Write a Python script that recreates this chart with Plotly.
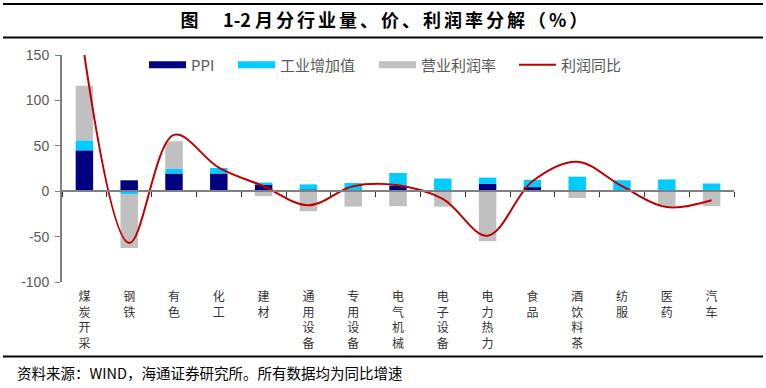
import plotly.graph_objects as go

categories = ["煤炭开采", "钢铁", "有色", "化工", "建材", "通用设备", "专用设备", "电气机械",
              "电子设备", "电力热力", "食品", "酒饮料茶", "纺服", "医药", "汽车"]
ppi = [45, 12, 19.5, 19.5, 7.5, 2, 1, 6, 1, 8, 4.5, 0, 1, 0, 1]
value_added = [11, -3, 5, 6, 2, 5.5, 8, 14, 13, 7, 8, 16, 11, 13, 7.5]
profit_margin = [60, -59.5, 30.5, 0, -5.5, -22, -17, -16.5, -17, -55, 0, -7.5, 0, -16.5, -16.5]
profit_yoy = [150, -57, 62, 26, 5.5, -15.5, 5.5, 6.5, -8.5, -49, 11, 32.5, 5.5, -17.5, -10]
y_tickvals = [-100, -50, 0, 50, 100, 150]
y_ticktext = ["-100", "-50", "0", "50", "100", "150"]

series_names = ["PPI", "工业增加值", "营业利润率", "利润同比"]
bar_colors = ["#000080", "#00CCFF", "#C0C0C0"]
line_color = "#C00000"
axis_gray = "#808080"
text_gray = "#595959"

vertical_labels = ["<br>".join(list(c)) for c in categories]

fig = go.Figure()
for name, vals, col in zip(series_names[:3], [ppi, value_added, profit_margin], bar_colors):
    fig.add_trace(go.Bar(x=categories, y=vals, name=name, marker=dict(color=col, line=dict(width=0)),
                         showlegend=False, width=0.39))
fig.add_trace(go.Scatter(x=categories, y=profit_yoy, mode="lines", name=series_names[3],
                         line=dict(color=line_color, width=2, shape="spline", smoothing=1.0),
                         showlegend=False))
# axis at zero with boundary ticks
fig.add_trace(go.Scatter(x=categories, y=[None] * len(categories), xaxis="x2", yaxis="y",
                         showlegend=False, hoverinfo="skip"))

# legend entries
legend_ids = ["legend", "legend2", "legend3", "legend4"]
legend_cols = bar_colors + [line_color]
legend_widths = [7, 7, 7, 2]
for name, col, w, lid in zip(series_names, legend_cols, legend_widths, legend_ids):
    fig.add_trace(go.Scatter(x=[None], y=[None], mode="lines", name=name,
                             line=dict(color=col, width=w), legend=lid, showlegend=True))

pl, pr, pt, pb = 62, 734, 55, 282
W, H = 766, 388
def px_x(px):
    return (px - pl) / (pr - pl)
def px_y(py):
    return (pb - py) / (pb - pt)

leg_font = dict(family="Noto Sans CJK SC, sans-serif", size=15, color=text_gray)
leg_x_px = [149, 238, 379, 519]
for lid, lx in zip(legend_ids, leg_x_px):
    fig.update_layout({lid: dict(x=px_x(lx - 5), y=px_y(65), xanchor="left", yanchor="middle",
                                 orientation="h", bgcolor="rgba(0,0,0,0)", borderwidth=0,
                                 font=leg_font, itemwidth=37, tracegroupgap=0)})

sp = "\u2006"
title_main = sp.join(list("月分行业量、价、利润率分解（%）"))
title_text = "<b>图\u00a0\u00a0\u00a0\u00a0\u00a0\u00a01-2" + "\u00a0" + title_main + "</b>"

fig.update_layout(
    width=W, height=H,
    margin=dict(l=pl, r=W - pr, t=pt, b=H - pb),
    paper_bgcolor="white", plot_bgcolor="white",
    barmode="relative",
    title=dict(text=title_text, x=(179 + 589) / 2 / W, xref="container",
               y=1 - 21 / H, yref="container", xanchor="center", yanchor="middle",
               font=dict(family="Noto Sans CJK SC, sans-serif", size=18, color="black")),
    xaxis=dict(type="category", categoryarray=categories, range=[-0.5, 14.5], showline=False,
               ticks="", tickvals=categories, ticktext=vertical_labels, showgrid=False, zeroline=False,
               ticklabelstandoff=6,
               tickfont=dict(family="Noto Sans CJK SC, sans-serif", size=12, color="#333333")),
    xaxis2=dict(type="category", categoryarray=categories, range=[-0.5, 14.5], overlaying="x",
                anchor="free", position=100 / 250, showline=True, linecolor=axis_gray, linewidth=2,
                ticks="outside", ticklen=5, tickwidth=1, tickcolor="#333333", tickson="boundaries",
                showticklabels=False, showgrid=False, zeroline=False),
    yaxis=dict(range=[-100, 150], tickvals=y_tickvals, ticktext=y_ticktext, showline=True,
               linecolor=axis_gray, linewidth=2, ticks="outside", ticklen=5, tickcolor=axis_gray,
               showgrid=False, zeroline=False, ticklabelstandoff=3,
               tickfont=dict(family="Liberation Sans, Arial, sans-serif", size=14, color=text_gray)),
    shapes=[
        dict(type="line", xref="paper", yref="paper", x0=px_x(3), x1=px_x(763), y0=px_y(4), y1=px_y(4),
             line=dict(color="black", width=2)),
        dict(type="line", xref="paper", yref="paper", x0=px_x(3), x1=px_x(763), y0=px_y(37.5), y1=px_y(37.5),
             line=dict(color="black", width=2)),
        dict(type="line", xref="paper", yref="paper", x0=px_x(3), x1=px_x(763), y0=px_y(356.5), y1=px_y(356.5),
             line=dict(color="black", width=2)),
    ],
    annotations=[
        dict(text="资料来源：WIND，海通证券研究所。所有数据均为同比增速", xref="paper", yref="paper",
             x=px_x(15), y=px_y(372), xanchor="left", yanchor="middle", showarrow=False,
             font=dict(family="Noto Sans CJK SC, sans-serif", size=14.5, color="black")),
    ],
)

fig.write_html("out.html", config={"displayModeBar": False},
               post_script="document.body.style.margin='0';document.body.style.overflow='hidden';")
